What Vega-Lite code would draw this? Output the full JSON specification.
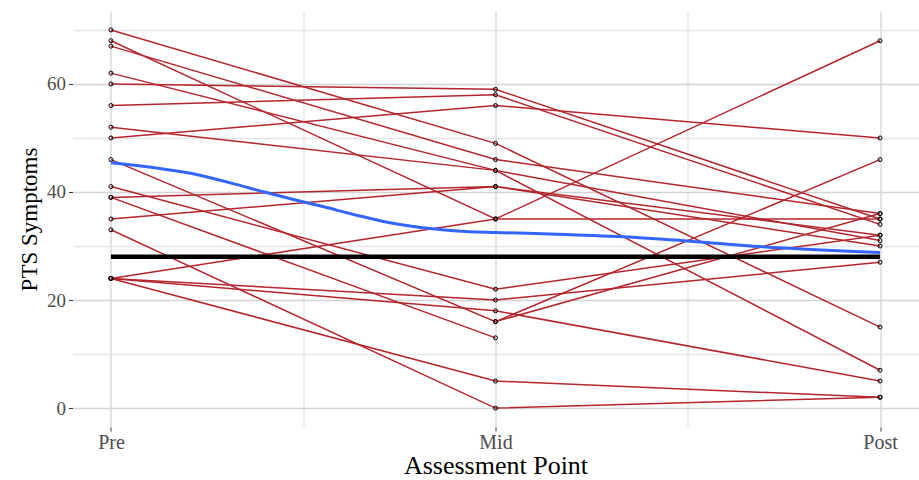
{
  "$schema": "https://vega.github.io/schema/vega-lite/v6.json",
  "width": 846,
  "height": 416,
  "autosize": {"type": "none"},
  "padding": {"left": 72.5, "top": 11, "right": 0.5, "bottom": 53},
  "background": "white",
  "config": {"view": {"stroke": null}, "font": "Liberation Serif"},
  "datasets": {
    "scores": [
      {"id": 1, "t": 1, "score": 70}, {"id": 1, "t": 2, "score": 49}, {"id": 1, "t": 3, "score": 15},
      {"id": 2, "t": 1, "score": 68}, {"id": 2, "t": 2, "score": 35}, {"id": 2, "t": 3, "score": 68},
      {"id": 3, "t": 1, "score": 67}, {"id": 3, "t": 2, "score": 46}, {"id": 3, "t": 3, "score": 36},
      {"id": 4, "t": 1, "score": 62}, {"id": 4, "t": 2, "score": 44}, {"id": 4, "t": 3, "score": 7},
      {"id": 5, "t": 1, "score": 60}, {"id": 5, "t": 2, "score": 59}, {"id": 5, "t": 3, "score": 35},
      {"id": 6, "t": 1, "score": 56}, {"id": 6, "t": 2, "score": 58}, {"id": 6, "t": 3, "score": 34},
      {"id": 7, "t": 1, "score": 52}, {"id": 7, "t": 2, "score": 44}, {"id": 7, "t": 3, "score": 31},
      {"id": 8, "t": 1, "score": 50}, {"id": 8, "t": 2, "score": 56}, {"id": 8, "t": 3, "score": 50},
      {"id": 9, "t": 1, "score": 46}, {"id": 9, "t": 2, "score": 16}, {"id": 9, "t": 3, "score": 46},
      {"id": 10, "t": 1, "score": 41}, {"id": 10, "t": 2, "score": 22}, {"id": 10, "t": 3, "score": 32},
      {"id": 11, "t": 1, "score": 39}, {"id": 11, "t": 2, "score": 41}, {"id": 11, "t": 3, "score": 32},
      {"id": 12, "t": 1, "score": 39}, {"id": 12, "t": 2, "score": 13},
      {"id": 13, "t": 1, "score": 35}, {"id": 13, "t": 2, "score": 41}, {"id": 13, "t": 3, "score": 30},
      {"id": 14, "t": 1, "score": 33}, {"id": 14, "t": 2, "score": 0}, {"id": 14, "t": 3, "score": 2},
      {"id": 15, "t": 1, "score": 24}, {"id": 15, "t": 2, "score": 35}, {"id": 15, "t": 3, "score": 35},
      {"id": 16, "t": 1, "score": 24}, {"id": 16, "t": 2, "score": 20}, {"id": 16, "t": 3, "score": 27},
      {"id": 17, "t": 1, "score": 24}, {"id": 17, "t": 2, "score": 18}, {"id": 17, "t": 3, "score": 5},
      {"id": 18, "t": 1, "score": 24}, {"id": 18, "t": 2, "score": 5}, {"id": 18, "t": 3, "score": 2},
      {"id": 19, "t": 2, "score": 16}, {"id": 19, "t": 3, "score": 36}
    ],
    "smooth": [
      {"t": 1.0, "score": 45.4}, {"t": 1.231, "score": 43.1}, {"t": 1.362, "score": 40.7},
      {"t": 1.47, "score": 38.7}, {"t": 1.551, "score": 37.3}, {"t": 1.639, "score": 35.7},
      {"t": 1.726, "score": 34.3}, {"t": 1.811, "score": 33.4}, {"t": 1.899, "score": 32.8},
      {"t": 2.0, "score": 32.5}, {"t": 2.159, "score": 32.2}, {"t": 2.332, "score": 31.7},
      {"t": 2.506, "score": 30.9}, {"t": 2.688, "score": 29.9}, {"t": 3.0, "score": 28.8}
    ],
    "threshold": [{"t0": 1, "t1": 3, "score": 28}]
  },
  "layer": [
    {
      "data": {"name": "scores"},
      "mark": {"type": "line", "color": "#b3262d", "strokeWidth": 1.5},
      "encoding": {
        "x": {
          "field": "t", "type": "quantitative",
          "scale": {"domain": [0.9, 3.1], "nice": false, "zero": false},
          "axis": {
            "values": [1, 1.5, 2, 2.5, 3],
            "labelExpr": "datum.value === 1 ? 'Pre' : datum.value === 2 ? 'Mid' : datum.value === 3 ? 'Post' : ''",
            "title": "Assessment Point",
            "titleFont": "Liberation Serif", "titleFontSize": 26, "titleFontWeight": "normal", "titleColor": "#000000", "titlePadding": 0,
            "labelFont": "Liberation Serif", "labelFontSize": 20, "labelColor": "#4d4d4d", "labelPadding": 1,
            "domain": false,
            "tickSize": 4,
            "tickColor": {"condition": {"test": "datum.value % 1 === 0", "value": "#333333"}, "value": "transparent"},
            "grid": true,
            "gridColor": {"condition": {"test": "datum.value % 1 === 0", "value": "#d4d4d4"}, "value": "#e6e6e6"},
            "gridWidth": 1.3
          }
        },
        "y": {
          "field": "score", "type": "quantitative",
          "scale": {"domain": [-3.5, 73.5], "nice": false, "zero": false},
          "axis": {
            "values": [0, 10, 20, 30, 40, 50, 60, 70],
            "labelExpr": "datum.value % 20 === 0 ? datum.label : ''",
            "title": "PTS Symptoms",
            "titleFont": "Liberation Serif", "titleFontSize": 23, "titleFontWeight": "normal", "titleColor": "#000000", "titlePadding": 5,
            "labelFont": "Liberation Serif", "labelFontSize": 19, "labelColor": "#4d4d4d", "labelPadding": 3,
            "domain": false,
            "tickSize": 4,
            "tickColor": {"condition": {"test": "datum.value % 20 === 0", "value": "#333333"}, "value": "transparent"},
            "grid": true,
            "gridColor": {"condition": {"test": "datum.value % 20 === 0", "value": "#d4d4d4"}, "value": "#e6e6e6"},
            "gridWidth": 1.3
          }
        },
        "detail": {"field": "id"}
      }
    },
    {
      "data": {"name": "scores"},
      "mark": {"type": "point", "shape": "circle", "filled": false, "stroke": "#000000", "strokeWidth": 1, "size": 16, "opacity": 1},
      "encoding": {
        "x": {"field": "t", "type": "quantitative"},
        "y": {"field": "score", "type": "quantitative"}
      }
    },
    {
      "data": {"name": "smooth"},
      "mark": {"type": "line", "color": "#3366ff", "strokeWidth": 3, "interpolate": "monotone"},
      "encoding": {
        "x": {"field": "t", "type": "quantitative"},
        "y": {"field": "score", "type": "quantitative"}
      }
    },
    {
      "data": {"name": "threshold"},
      "mark": {"type": "rule", "color": "#000000", "strokeWidth": 4.5},
      "encoding": {
        "x": {"field": "t0", "type": "quantitative"},
        "x2": {"field": "t1"},
        "y": {"field": "score", "type": "quantitative"}
      }
    }
  ]
}
